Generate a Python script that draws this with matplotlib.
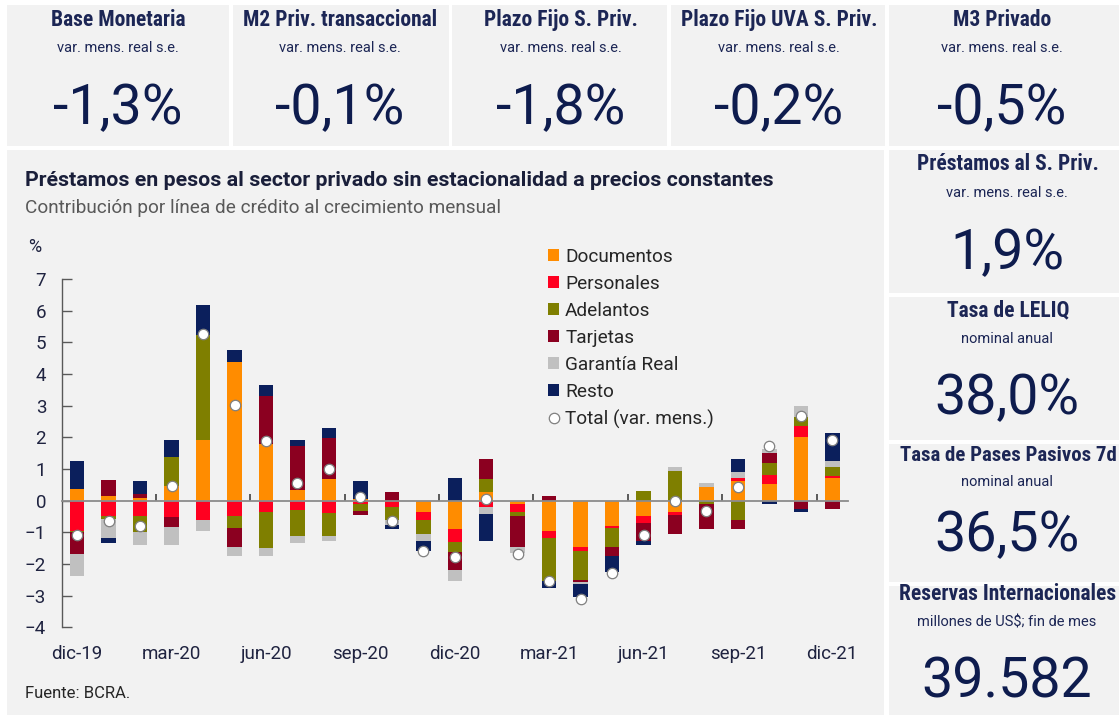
import matplotlib
matplotlib.use("Agg")
import matplotlib.pyplot as plt
import numpy as np
from matplotlib import font_manager
from matplotlib.lines import Line2D
from matplotlib.patches import Rectangle

# ---- data -------------------------------------------------------------
months = ["dic-19", "ene-20", "feb-20", "mar-20", "abr-20", "may-20", "jun-20",
          "jul-20", "ago-20", "sep-20", "oct-20", "nov-20", "dic-20", "ene-21",
          "feb-21", "mar-21", "abr-21", "may-21", "jun-21", "jul-21", "ago-21",
          "sep-21", "oct-21", "nov-21", "dic-21"]

documentos = [0.37, 0.16, 0.08, 0.45, 1.93, 4.39, 1.79, 0.34, 0.68, 0.06, 0.0, -0.37, -0.89,
              0.26, -0.12, -0.95, -1.45, -0.81, -0.50, -0.37, 0.44, 0.61, 0.53, 2.00, 0.72]
personales = [-0.95, -0.47, -0.50, -0.53, -0.61, -0.50, -0.37, -0.28, -0.39, -0.10, -0.21, -0.25, -0.43,
              -0.20, -0.25, -0.23, -0.15, -0.06, -0.21, -0.08, 0.0, 0.11, 0.28, 0.35, 0.06]
adelantos = [-0.03, -0.10, -0.50, 0.92, 3.30, -0.36, -1.13, -0.85, -0.74, -0.22, -0.39, -0.42, -0.31,
             0.42, -0.13, -1.35, -0.90, -0.58, 0.32, 0.93, -0.10, -0.61, 0.37, 0.28, 0.29]
tarjetas = [-0.70, 0.50, 0.13, -0.29, 0.0, -0.59, 1.53, 1.40, 1.29, -0.12, 0.26, 0.0, -0.56,
            0.64, -0.95, 0.16, -0.08, -0.29, -0.55, -0.60, -0.80, -0.29, 0.32, -0.26, -0.27]
garantia = [-0.70, -0.60, -0.40, -0.57, -0.34, -0.31, -0.26, -0.22, -0.13, 0.0, -0.18, -0.24, -0.34,
            -0.22, -0.20, 0.0, -0.05, 0.0, 0.0, 0.12, 0.13, 0.17, 0.12, 0.37, 0.19]
resto = [0.88, -0.17, 0.40, 0.55, 0.96, 0.38, 0.32, 0.18, 0.31, 0.57, -0.12, -0.30, 0.72,
         -0.86, 0.0, -0.22, -0.40, -0.52, -0.13, 0.0, 0.0, 0.43, -0.12, -0.10, 0.88]
total = [-1.10, -0.63, -0.81, 0.47, 5.25, 3.03, 1.87, 0.56, 1.00, 0.13, -0.63, -1.58, -1.79,
         0.05, -1.68, -2.53, -3.10, -2.29, -1.07, 0.0, -0.34, 0.44, 1.74, 2.68, 1.92]

series_names = ["Documentos", "Personales", "Adelantos", "Tarjetas", "Garantía Real", "Resto"]
series_colors = ["#ff8c00", "#ff0020", "#7f7f00", "#8b0020", "#c0c0c0", "#0b1f5c"]

top_titles = ["Base Monetaria", "M2 Priv. transaccional", "Plazo Fijo S. Priv.",
              "Plazo Fijo UVA S. Priv.", "M3 Privado"]
top_subtitles = ["var. mens. real s.e."] * 5
top_values = ["-1,3%", "-0,1%", "-1,8%", "-0,2%", "-0,5%"]

side_titles = ["Préstamos al S. Priv.", "Tasa de LELIQ", "Tasa de Pases Pasivos 7d",
               "Reservas Internacionales"]
side_subtitles = ["var. mens. real s.e.", "nominal anual", "nominal anual",
                  "millones de US$; fin de mes"]
side_values = ["1,9%", "38,0%", "36,5%", "39.582"]

# ---- layout helpers (pixels of the 1119x715 canvas) --------------------
W, H = 1119, 715
PANEL = "#f2f2f2"
TITLE_C = "#1c2655"
VALUE_C = "#0e1c4e"
AXIS_TXT = "#1f2340"

names = {f.name for f in font_manager.fontManager.ttflist}
COND = "Roboto Condensed" if "Roboto Condensed" in names else "Roboto"
plt.rcParams["font.family"] = ["Roboto", "DejaVu Sans"]


def fx(px):
    return px / W


def fy(py):
    return 1 - py / H


def panel(fig, x0, y0, x1, y1):
    fig.add_artist(Rectangle((fx(x0), fy(y1)), fx(x1 - x0), (y1 - y0) / H,
                             transform=fig.transFigure, facecolor=PANEL,
                             edgecolor="none", zorder=0))


fig = plt.figure(figsize=(W / 100, H / 100), dpi=100, facecolor="white")

# panels
top_boxes = [(7, 229), (233, 449), (452, 667), (671, 885), (889, 1125)]
for x0, x1 in top_boxes:
    panel(fig, x0, 5, x1, 146)
panel(fig, 7, 150, 884, 715)
side_boxes = [(150, 293), (297, 440), (444, 582), (586, 715)]
for y0, y1 in side_boxes:
    panel(fig, 889, y0, 1125, y1)

# KPI texts
top_cx = [118, 340, 561, 779, 1002]
for cx, t, s, v in zip(top_cx, top_titles, top_subtitles, top_values):
    fig.text(fx(cx), fy(26), t, ha="center", va="baseline", fontsize=15.5,
             fontweight="bold", family=[COND, "Roboto"], color=TITLE_C)
    fig.text(fx(cx), fy(52), s, ha="center", va="baseline", fontsize=10.5,
             color=TITLE_C)
    fig.text(fx(cx), fy(124), v, ha="center", va="baseline", fontsize=40,
             fontweight="normal", color=VALUE_C)

side_base = [(170, 197, 269), (316, 343, 414), (461, 486, 551), (600, 626, 697)]
side_size = [15.5, 15.5, 15.0, 15.5]
for (bt, bs, bv), fs, t, s, v in zip(side_base, side_size, side_titles, side_subtitles, side_values):
    fig.text(fx(1008), fy(bt), t, ha="center", va="baseline", fontsize=fs,
             fontweight="bold", family=[COND, "Roboto"], color=TITLE_C)
    fig.text(fx(1007), fy(bs), s, ha="center", va="baseline", fontsize=10.5,
             color=TITLE_C)
    fig.text(fx(1007), fy(bv), v, ha="center", va="baseline", fontsize=40,
             fontweight="normal", color=VALUE_C)

# chart texts
fig.text(fx(25), fy(186), "Préstamos en pesos al sector privado sin estacionalidad a precios constantes",
         ha="left", va="baseline", fontsize=15.4, fontweight="bold", color="#1a1f3a")
fig.text(fx(25), fy(213), "Contribución por línea de crédito al crecimiento mensual",
         ha="left", va="baseline", fontsize=13.7, color="#595959")
fig.text(fx(35), fy(247), "%", ha="center", va="center", fontsize=13, color=AXIS_TXT)
fig.text(fx(25), fy(698), "Fuente: BCRA.", ha="left", va="baseline", fontsize=12, color="#262626")

# ---- stacked bars --------------------------------------------------------
ax_bottom, ax_top = 627.3, 279.0
ax = fig.add_axes([fx(61.5), fy(ax_bottom), fx(848 - 61.5), (ax_bottom - ax_top) / H])
ax.set_facecolor("none")

x = np.arange(len(months))
pos = np.zeros(len(months))
neg = np.zeros(len(months))
for name, vals, c in zip(series_names,
                         [documentos, personales, adelantos, tarjetas, garantia, resto],
                         series_colors):
    v = np.array(vals)
    bottom = np.where(v >= 0, pos, neg)
    ax.bar(x, v, bottom=bottom, width=0.46, color=c, edgecolor="none", zorder=2)
    pos += np.where(v >= 0, v, 0)
    neg += np.where(v < 0, v, 0)

ax.plot(x, total, "o", ls="none", ms=7.5, mfc="white", mec="#808080", mew=0.9, zorder=5)

ax.set_xlim(-0.5, len(months) - 0.5)
ax.set_ylim(-4, 7)
ax.set_yticks(range(-4, 8))
ax.tick_params(axis="y", direction="in", length=7, width=1, color="#595959",
               labelsize=13.5, labelcolor=AXIS_TXT, pad=11)
for side in ["top", "right"]:
    ax.spines[side].set_visible(False)
ax.spines["left"].set_color("#595959")
ax.spines["left"].set_linewidth(1)

# zero line carries the quarter marks, labels sit below the plot
ax.spines["bottom"].set_position(("data", 0))
ax.spines["bottom"].set_color("#8c8c8c")
ax.spines["bottom"].set_linewidth(1.3)
ax.spines["bottom"].set_zorder(3)
ax.set_xticks(np.arange(2.5, len(months) - 1, 3))
ax.tick_params(axis="x", direction="in", length=5, width=1.2, color="#404040",
               labelbottom=False)

lab = ax.secondary_xaxis(0.0)
lab.set_xticks(x[::3], [months[i] for i in x[::3]])
lab.tick_params(length=0, pad=13, labelsize=13.5, labelcolor=AXIS_TXT)
lab.spines["bottom"].set_visible(False)

handles = [Rectangle((0, 0), 1, 1, facecolor=c, edgecolor="none") for c in series_colors]
handles.append(Line2D([], [], ls="none", marker="o", ms=7.5, mfc="white", mec="#808080", mew=0.9))
fig.legend(handles, series_names + ["Total (var. mens.)"], loc="upper left",
           bbox_to_anchor=(fx(548), fy(248)), bbox_transform=fig.transFigure,
           frameon=False, fontsize=13.7, handlelength=0.6, handleheight=0.6,
           handletextpad=0.3, labelspacing=0.47, borderpad=0, borderaxespad=0,
           labelcolor="#262626")

fig.savefig("out.png", dpi=100, facecolor="white")
